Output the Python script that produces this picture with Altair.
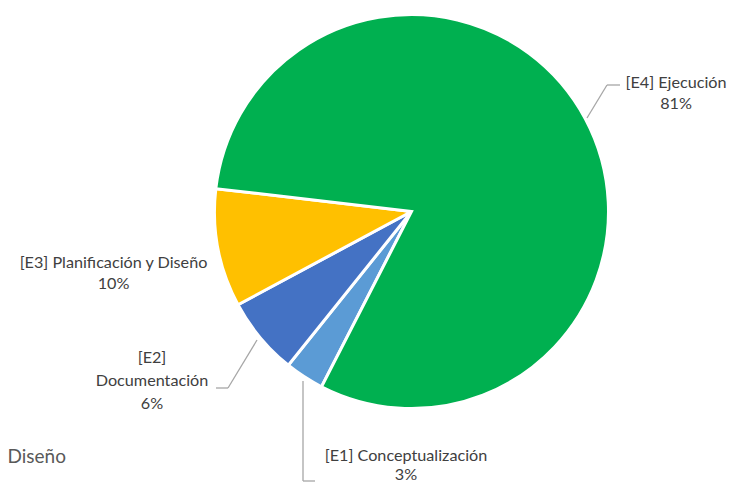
import altair as alt
import pandas as pd

# ---- data ----
etapas = ["[E1] Conceptualización", "[E2] Documentación", "[E3] Planificación y Diseño", "[E4] Ejecución"]
valores = [3.2, 6.4, 9.7, 80.7]
porcentajes = ["3%", "6%", "10%", "81%"]
colores = ["#5b9bd5", "#4472c4", "#ffc000", "#00b050"]

# ---- layout (page coords minus 8px margin) ----
M = 8
CX, CY, R = 411.5 - M, 211.5 - M, 197
START = 3.616  # start angle (radians, clockwise from 12 o'clock)

pie_df = pd.DataFrame({"etapa": etapas, "valor": valores, "orden": list(range(len(etapas)))})

pie = alt.Chart(pie_df).mark_arc(outerRadius=R, stroke="white", strokeWidth=3).encode(
    theta=alt.Theta("valor:Q", stack=True, scale=alt.Scale(range=[START, START + 6.283185])),
    color=alt.Color("etapa:N", scale=alt.Scale(domain=etapas, range=colores), legend=None),
    order=alt.Order("orden:Q"),
    x=alt.value(CX),
    y=alt.value(CY),
)

# label lines
label_lines = [
    ("[E4] Ejecución", 676, 83), (porcentajes[3], 676, 104),
    ("[E3] Planificación y Diseño", 113.5, 263), (porcentajes[2], 113.5, 284),
    ("[E2]", 152, 358), ("Documentación", 152, 381), (porcentajes[1], 152, 404),
    ("[E1] Conceptualización", 406, 456), (porcentajes[0], 406, 475),
]
lab_df = pd.DataFrame({"t": [l[0] for l in label_lines],
                       "x": [l[1] - M for l in label_lines],
                       "y": [l[2] - M for l in label_lines]})
labels = alt.Chart(lab_df).mark_text(font="Lato", fontSize=16.2, color="#404040",
                                     align="center", baseline="middle").encode(
    x=alt.X("x:Q", scale=None), y=alt.Y("y:Q", scale=None), text="t:N")

# leader lines
segs = [
    (587, 118, 607, 85), (607, 85, 620, 85),
    (257, 340, 228, 388), (228, 388, 216, 388),
    (303, 381, 303, 481), (303, 481, 315, 481),
]
seg_df = pd.DataFrame({"x": [s[0] - M for s in segs], "y": [s[1] - M for s in segs],
                       "x2": [s[2] - M for s in segs], "y2": [s[3] - M for s in segs]})
leaders = alt.Chart(seg_df).mark_rule(color="#a6a6a6", strokeWidth=1.3).encode(
    x=alt.X("x:Q", scale=None), y=alt.Y("y:Q", scale=None),
    x2="x2:Q", y2="y2:Q")

# cut-off fragment of another chart's legend at bottom-left
frag_df = pd.DataFrame({"t": ["[E3] Planificación y Diseño", "10%"], "x": [66 - M, 30 - M], "y": [457 - M, 490 - M]})
frag = alt.Chart(frag_df).mark_text(font="Lato", fontSize=19, color="#595959",
                                    align="right", baseline="middle").encode(
    x=alt.X("x:Q", scale=None), y=alt.Y("y:Q", scale=None), text="t:N")

chart = alt.layer(pie, leaders, labels, frag).properties(
    width=730, height=474, autosize="none", padding=0
).configure_view(stroke=None)

chart.save("out.html", embed_options={"renderer": "svg", "actions": False})
